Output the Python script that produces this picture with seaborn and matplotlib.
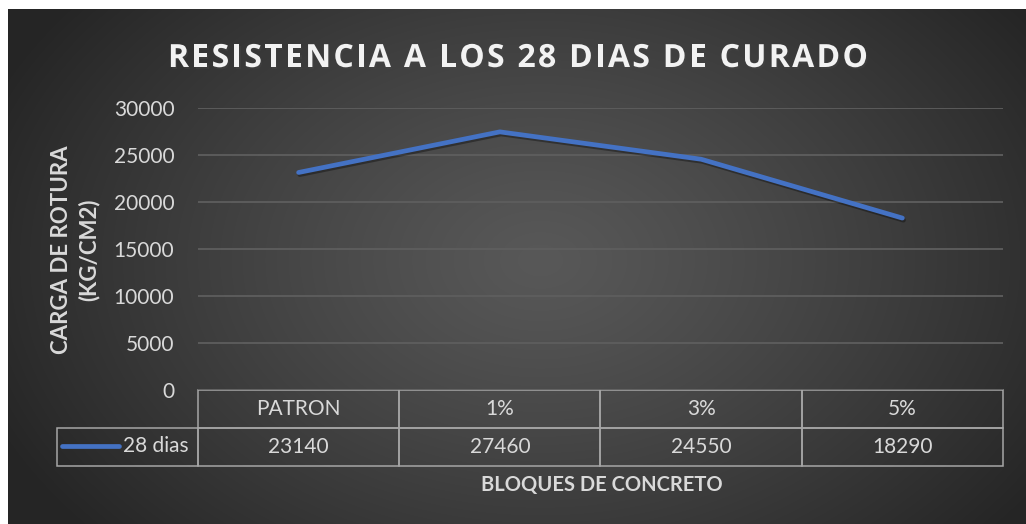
import numpy as np
import pandas as pd
import matplotlib
matplotlib.use('Agg')
import matplotlib.pyplot as plt
import matplotlib.patheffects as pe
import seaborn as sns

# chart data
categories = ['PATRON', '1%', '3%', '5%']
resistencia = [23140, 27460, 24550, 18290]
serie = '28 dias'
y_ticks = [0, 5000, 10000, 15000, 20000, 25000, 30000]

titulo = 'RESISTENCIA A LOS 28 DIAS DE CURADO'
y_label = 'CARGA DE ROTURA\n(KG/CM2)'
x_label = 'BLOQUES DE CONCRETO'

df = pd.DataFrame({'bloque': categories, 'carga': resistencia})

sns.set_theme(style='dark')
plt.rcParams['font.family'] = ['Lato', 'DejaVu Sans']

W, H = 1026, 524
fig = plt.figure(figsize=(W / 100, H / 100), dpi=100, facecolor='white')

# radial gradient background like the excel dark style
bg = fig.add_axes([8 / W, 0, (W - 8) / W, (H - 9) / H], zorder=-5)
gx, gy = np.meshgrid(np.arange(8, W), np.arange(9, H))
r = np.sqrt(((gx - 540) / 600.0) ** 2 + ((gy - 260) / 420.0) ** 2)
r = np.clip(r, 0, 1) ** 1.2
shade = (88 - 51 * r) / 255.0
bg.imshow(np.dstack([shade, shade, shade]), aspect='auto', interpolation='bilinear')
bg.set_axis_off()

# plot area
ax = fig.add_axes([198 / W, (H - 390) / H, 805 / W, 282 / H])
ax.set_facecolor('none')
sns.lineplot(data=df, x='bloque', y='carga', ax=ax, color='#4472C4', linewidth=3.4,
             sort=False, solid_capstyle='round',
             path_effects=[pe.SimpleLineShadow(offset=(0.8, -1.5), alpha=0.35, shadow_color='black'),
                           pe.Normal()])
ax.set_xlim(-0.5, len(categories) - 0.5)
ax.set_ylim(0, 30000)
ax.set_yticks(y_ticks)
ax.set_yticklabels([str(v) for v in y_ticks])
ax.set_xticks([])
ax.set_xlabel('')
ax.set_ylabel('')
for s in ax.spines.values():
    s.set_visible(False)
ax.yaxis.grid(True, color='#5e5e5e', linewidth=1.3)
ax.xaxis.grid(False)
ax.tick_params(axis='y', length=0, pad=17, labelsize=15, labelcolor='#d9d9d9')

# data table under the axis
cell_text = [[''] + [str(v) for v in resistencia]]
col_w = [141 / 805] + [0.25] * len(categories)
tbl = ax.table(cellText=cell_text, colLabels=[''] + categories, colWidths=col_w,
               cellLoc='center', bbox=[-141 / 805, -75.7 / 282, 1 + 141 / 805, 75.7 / 282])
tbl.auto_set_font_size(False)
tbl.set_fontsize(15)
for (row, col), cell in tbl.get_celld().items():
    cell.set_facecolor('none')
    cell.set_edgecolor('#a6a6a6')
    cell.set_linewidth(1.1)
    cell.get_text().set_color('#d9d9d9')
    if row == 0 and col == 0:
        cell.visible_edges = ''

# legend key inside the first cell
ax.plot([(62 - 198) / 805, (119 - 198) / 805], [-56 / 282, -56 / 282], transform=ax.transAxes,
        color='#4472C4', linewidth=3.4, solid_capstyle='round', clip_on=False)
ax.text(-9 / 805, -56 / 282, serie, transform=ax.transAxes, ha='right', va='center',
        fontsize=15, color='#d9d9d9')

# axis titles
fig.text(75 / W, 1 - 250 / H, y_label, rotation=90, ha='center', va='center',
         fontsize=16, fontweight='bold', color='#d9d9d9', linespacing=1.35,
         multialignment='center')
fig.text(602 / W, 1 - 485 / H, x_label, ha='center', va='center',
         fontsize=14.5, fontweight='bold', color='#d9d9d9')

# title with letter spacing
renderer = fig.canvas.get_renderer()
title_kw = dict(fontsize=23, fontweight='bold', color='#f2f2f2',
                family=['Open Sans', 'DejaVu Sans'])


def text_width(s):
    t = fig.text(0, 0, s, **title_kw)
    w = t.get_window_extent(renderer).width
    t.remove()
    return w


bar_w = text_width('||')
widths = [text_width('|' + ch + '|') - bar_w for ch in titulo]
gap = (700 - sum(widths)) / (len(titulo) - 1)
x = 518 - 700 / 2
for ch, w in zip(titulo, widths):
    fig.text(x / W, 1 - 67 / H, ch, ha='left', va='baseline',
             path_effects=[pe.withSimplePatchShadow(offset=(1, -1.5), alpha=0.35)], **title_kw)
    x += w + gap

fig.savefig('out.png', dpi=100, facecolor=fig.get_facecolor())
